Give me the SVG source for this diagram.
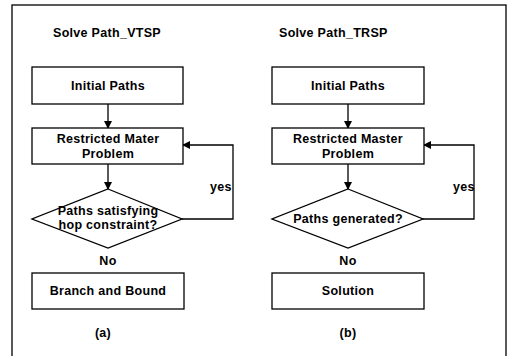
<svg xmlns="http://www.w3.org/2000/svg" width="508" height="356" viewBox="0 0 508 356">
<defs>
<marker id="ah" markerWidth="8" markerHeight="8" refX="7" refY="4" orient="auto" markerUnits="userSpaceOnUse">
<path d="M0,0 L8,4 L0,8 Z" fill="#000"/>
</marker>
<style>
.box{fill:#fff;stroke:#000;stroke-width:1.3}
.t{font-family:"Liberation Sans",Arial,sans-serif;font-weight:bold;font-size:12.5px;letter-spacing:0.3px;fill:#000;text-anchor:middle}
.l{fill:none;stroke:#000;stroke-width:1.3}
</style>
</defs>
<rect width="508" height="356" fill="#fff"/>
<rect x="12" y="5" width="494" height="352" fill="none" stroke="#000" stroke-width="1.3"/>
<text class="t" x="53" y="37" style="text-anchor:start">Solve Path_VTSP</text>
<text class="t" x="279" y="37" style="text-anchor:start">Solve Path_TRSP</text>
<g id="connectors">
<line class="l" x1="108" y1="104" x2="108" y2="128" marker-end="url(#ah)"/>
<line class="l" x1="108" y1="164" x2="108" y2="189" marker-end="url(#ah)"/>
<polyline class="l" points="182,219 233,219 233,145 183,145" marker-end="url(#ah)"/>
<line class="l" x1="348" y1="104" x2="348" y2="128" marker-end="url(#ah)"/>
<line class="l" x1="348" y1="164" x2="348" y2="189" marker-end="url(#ah)"/>
<polyline class="l" points="423,219 474,219 474,145 424,145" marker-end="url(#ah)"/>
</g>
<g id="a-initial"><rect class="box" x="32" y="67" width="151" height="37"/><text class="t" x="108" y="90">Initial Paths</text></g>
<g id="a-rmp"><rect class="box" x="32" y="128" width="151" height="36"/><text class="t" x="108" y="143">Restricted Mater</text><text class="t" x="108" y="158">Problem</text></g>
<g id="a-dec"><polygon class="box" points="108,189 182,219 108,248 32,219"/><text class="t" x="108" y="215">Paths satisfying</text><text class="t" x="108" y="229">hop constraint?</text></g>
<g id="a-bb"><rect class="box" x="32" y="273" width="152" height="36"/><text class="t" x="108" y="295">Branch and Bound</text></g>
<text class="t" x="108" y="265">No</text>
<text class="t" x="221" y="191">yes</text>
<text class="t" x="103" y="337">(a)</text>
<g id="b-initial"><rect class="box" x="272" y="67" width="152" height="37"/><text class="t" x="348" y="90">Initial Paths</text></g>
<g id="b-rmp"><rect class="box" x="272" y="128" width="152" height="36"/><text class="t" x="348" y="143">Restricted Master</text><text class="t" x="348" y="158">Problem</text></g>
<g id="b-dec"><polygon class="box" points="348,189 423,219 348,248 272,219"/><text class="t" x="348" y="223">Paths generated?</text></g>
<g id="b-sol"><rect class="box" x="272" y="273" width="152" height="36"/><text class="t" x="348" y="295">Solution</text></g>
<text class="t" x="348" y="265">No</text>
<text class="t" x="464" y="191">yes</text>
<text class="t" x="348" y="337">(b)</text>
</svg>
